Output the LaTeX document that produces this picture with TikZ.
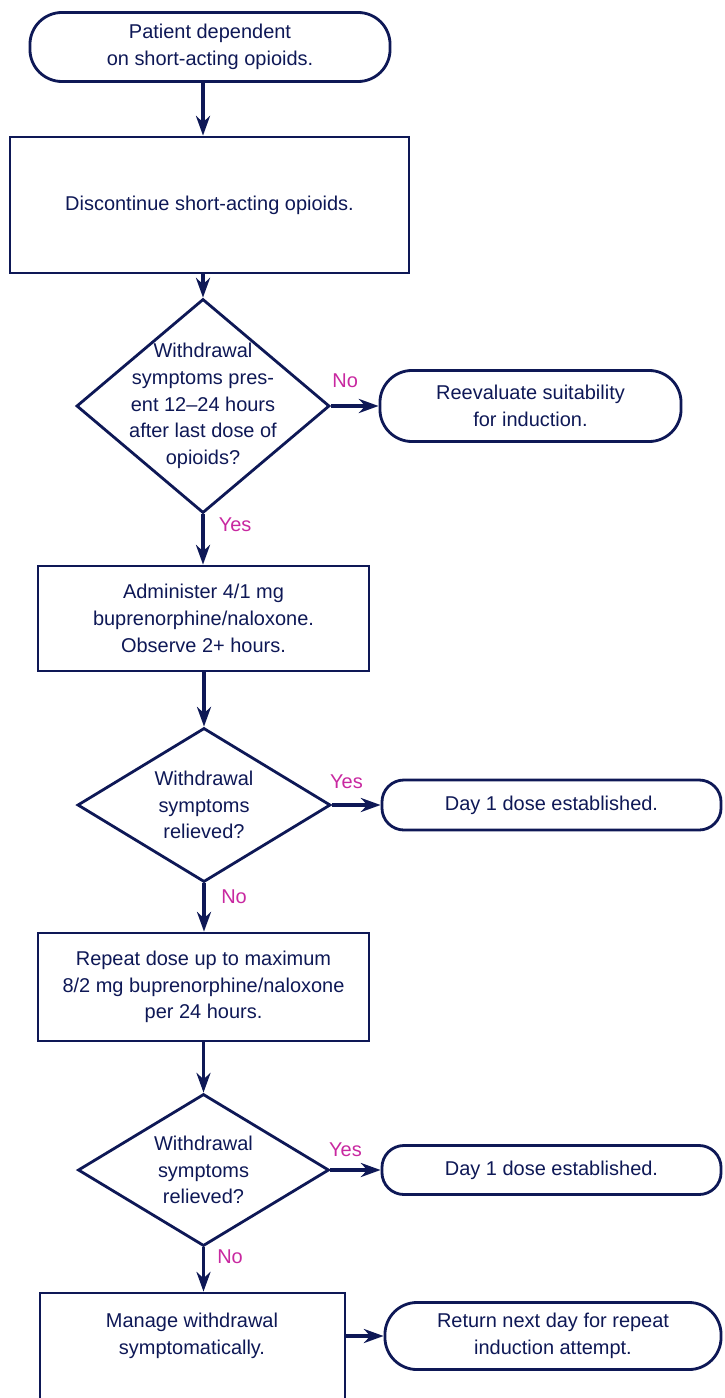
\documentclass[tikz,border=0pt]{standalone}
\usepackage{fontspec}
\setmainfont{Liberation Sans}
\usetikzlibrary{arrows.meta,shapes.geometric}
\definecolor{flownavy}{RGB}{14,24,86}
\definecolor{flowpink}{RGB}{200,40,160}

\begin{document}
\begin{tikzpicture}[x=0.025cm, y=-0.025cm, >={Stealth[length=14pt,width=10pt]},
        every node/.style={font=\fontsize{14.2}{19}\selectfont, text=flownavy, align=center},
        box/.style={draw=flownavy, line width=2pt, rectangle},
        term/.style={draw=flownavy, line width=2pt, rectangle, rounded corners=0.8cm},
        decision/.style={draw=flownavy, line width=2pt, diamond, inner sep=0pt},
        flow/.style={->, draw=flownavy, line width=2.6pt},
        lbl/.style={text=flowpink, inner sep=0pt}]
                            \useasboundingbox (0,0) rectangle (724,1398);

                            \node at (210,47) [term, minimum width=9cm, minimum height=1.725cm] (start) {Patient dependent\\on short-acting opioids.};
                            \node at (209.5,205) [box, minimum width=9.975cm, minimum height=3.4cm] (discont) {Discontinue short-acting opioids.};
                            \node at (203,406) [decision, minimum width=6.325cm, minimum height=5.35cm] (q1) {};
                            \node at (q1) (q1txt) {Withdrawal\\symptoms pres-\\ent 12--24 hours\\after last dose of\\opioids?};
                            \node at (530.5,406) [term, minimum width=7.525cm, minimum height=1.775cm] (reeval) {Reevaluate suitability\\for induction.};

                            \node at (203.5,618.5) [box, minimum width=8.275cm, minimum height=2.625cm] (admin) {Administer 4/1 mg\\buprenorphine/naloxone.\\Observe 2+ hours.};
                            \node at (204,805) [decision, minimum width=6.325cm, minimum height=3.85cm] (q2) {};
                            \node at (q2) (q2txt) {Withdrawal\\symptoms\\relieved?};
                            \node at (551.5,805) [term, rounded corners=0.55cm, minimum width=8.475cm, minimum height=1.25cm] (dayone) {Day 1 dose established.};

                            \node at (203.5,987) [box, minimum width=8.275cm, minimum height=2.7cm] (repeat) {Repeat dose up to maximum\\8/2 mg buprenorphine/naloxone\\per 24 hours.};
                            \node at (203.5,1170) [decision, minimum width=6.275cm, minimum height=3.8cm] (q3) {};
                            \node at (q3) (q3txt) {Withdrawal\\symptoms\\relieved?};
                            \node at (551.5,1170) [term, rounded corners=0.55cm, minimum width=8.475cm, minimum height=1.225cm] (daytwo) {Day 1 dose established.};

                            \node at (192.5,1361.5) [box, minimum width=7.625cm, minimum height=3.425cm] (manage) {};
                            \node at (192,1336) (managetxt) {Manage withdrawal\\symptomatically.};
                            \node at (553,1336) [term, minimum width=8.4cm, minimum height=1.675cm] (return) {Return next day for repeat\\induction attempt.};

                            \draw[flow] (start.south -| q1.north) -- (discont.north -| q1.north);
                            \draw[flow] (discont.south -| q1.north) -- (q1.north);
                            \draw[flow] (q1.east) -- (reeval.west) node[lbl, pos=0.3, above=12pt]{No};
                            \draw[flow] (q1.south) -- (admin.north -| q1.south) node[lbl, pos=0.2, right=10pt]{Yes};
                            \draw[flow] (admin.south -| q2.north) -- (q2.north);
                            \draw[flow] (q2.east) -- (dayone.west) node[lbl, pos=0.3, above=10pt]{Yes};
                            \draw[flow] (q2.south) -- (repeat.north -| q2.south) node[lbl, pos=0.27, right=11pt]{No};
                            \draw[flow] (repeat.south -| q3.north) -- (q3.north);
                            \draw[flow] (q3.east) -- (daytwo.west) node[lbl, pos=0.3, above=8pt]{Yes};
                            \draw[flow] (q3.south) -- (manage.north -| q3.south) node[lbl, pos=0.22, right=8.5pt]{No};
                            \draw[flow] (managetxt -| manage.east) -- (return.west);
\end{tikzpicture}
\end{document}
